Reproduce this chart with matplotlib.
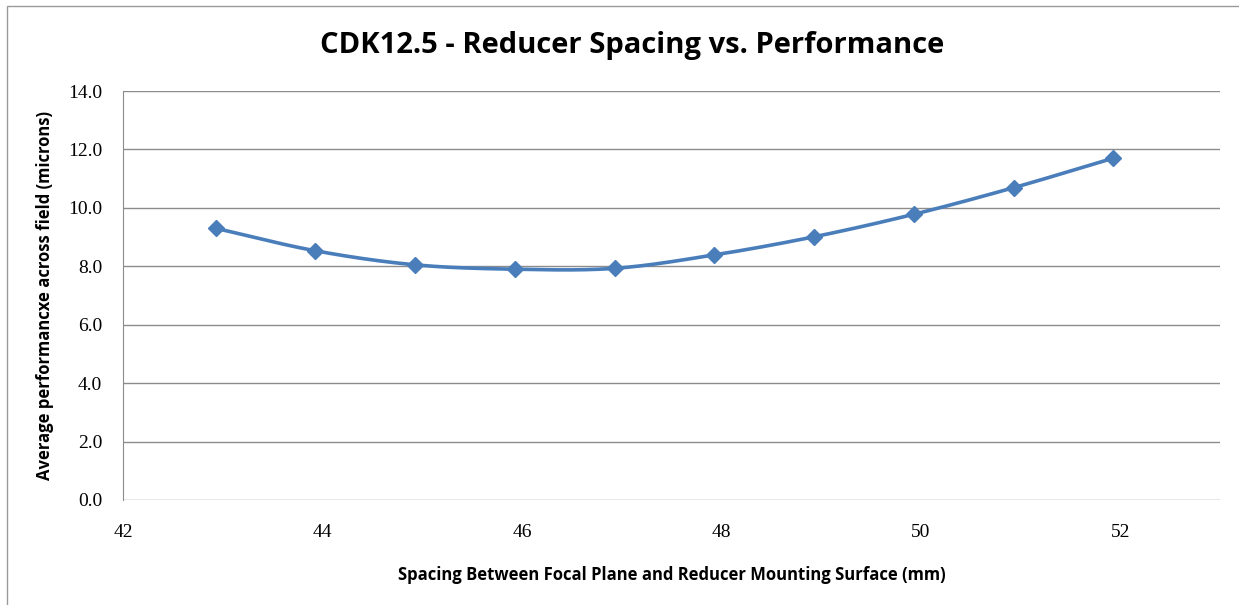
import numpy as np
import matplotlib
matplotlib.use("Agg")
import matplotlib.pyplot as plt
from matplotlib.patches import Rectangle

spacing = [42.93, 43.93, 44.93, 45.93, 46.93, 47.93, 48.93, 49.93, 50.93, 51.93]
performance = [9.30, 8.53, 8.05, 7.90, 7.93, 8.39, 9.01, 9.78, 10.69, 11.70]
xticks = [42, 44, 46, 48, 50, 52]
yticks = [0, 2, 4, 6, 8, 10, 12, 14]

title = "CDK12.5 - Reducer Spacing vs. Performance"
xlabel = "Spacing Between Focal Plane and Reducer Mounting Surface (mm)"
ylabel = "Average performancxe across field (microns)"

color = "#4A7EBB"


def catmull_rom(x, y, n=30):
    x = np.asarray(x, float)
    y = np.asarray(y, float)
    px = np.concatenate([[2 * x[0] - x[1]], x, [2 * x[-1] - x[-2]]])
    py = np.concatenate([[2 * y[0] - y[1]], y, [2 * y[-1] - y[-2]]])
    xs, ys = [], []
    for i in range(1, len(px) - 2):
        p0, p1, p2, p3 = [np.array([px[j], py[j]]) for j in (i - 1, i, i + 1, i + 2)]
        b1 = p1 + (p2 - p0) / 6.0
        b2 = p2 - (p3 - p1) / 6.0
        t = np.linspace(0, 1, n, endpoint=(i == len(px) - 3))
        pts = ((1 - t) ** 3)[:, None] * p1 + (3 * (1 - t) ** 2 * t)[:, None] * b1 \
            + (3 * (1 - t) * t ** 2)[:, None] * b2 + (t ** 3)[:, None] * p2
        xs.extend(pts[:, 0])
        ys.extend(pts[:, 1])
    return np.array(xs), np.array(ys)


fig = plt.figure(figsize=(12.39, 6.05), dpi=100)
fig.patch.set_facecolor("white")
fig.patches.append(Rectangle((7 / 1239, -0.2), 1.2, 1.2 - 6 / 605, transform=fig.transFigure,
                             fill=False, edgecolor="#9a9a9a", linewidth=1.0))

ax = fig.add_axes([123 / 1239, 1 - 500 / 605, (1220 - 123) / 1239, (500 - 91) / 605])
ax.set_xlim(42, 53)
ax.set_ylim(0, 14)
ax.set_xticks(xticks)
ax.set_yticks(yticks)
ax.set_yticklabels([f"{v:.1f}" for v in yticks])
ax.grid(axis="y", color="#8c8c8c", linewidth=1.0)
ax.set_axisbelow(True)
for s in ("top", "right", "bottom"):
    ax.spines[s].set_visible(False)
ax.spines["left"].set_color("#8c8c8c")
ax.tick_params(length=0, labelsize=14)
ax.tick_params(axis="x", pad=17)
ax.tick_params(axis="y", pad=15)
for lab in ax.get_xticklabels() + ax.get_yticklabels():
    lab.set_family("Liberation Serif")

sx, sy = catmull_rom(spacing, performance)
ax.plot(sx, sy, color=color, linewidth=2.6, solid_capstyle="round", zorder=3)
ax.plot(spacing, performance, linestyle="none", marker="D", markersize=8,
        color=color, zorder=4)

fig.text(632 / 1239, 1 - 45 / 605, title, ha="center", va="center",
         fontsize=21, fontweight="bold", family="Open Sans")
fig.text(672 / 1239, 1 - 575 / 605, xlabel, ha="center", va="center",
         fontsize=12, fontweight="bold", family="Open Sans")
fig.text(45 / 1239, 1 - 296 / 605, ylabel, ha="center", va="center", rotation=90,
         fontsize=12, fontweight="bold", family="Open Sans")

fig.savefig("out.png", dpi=100, facecolor="white")
